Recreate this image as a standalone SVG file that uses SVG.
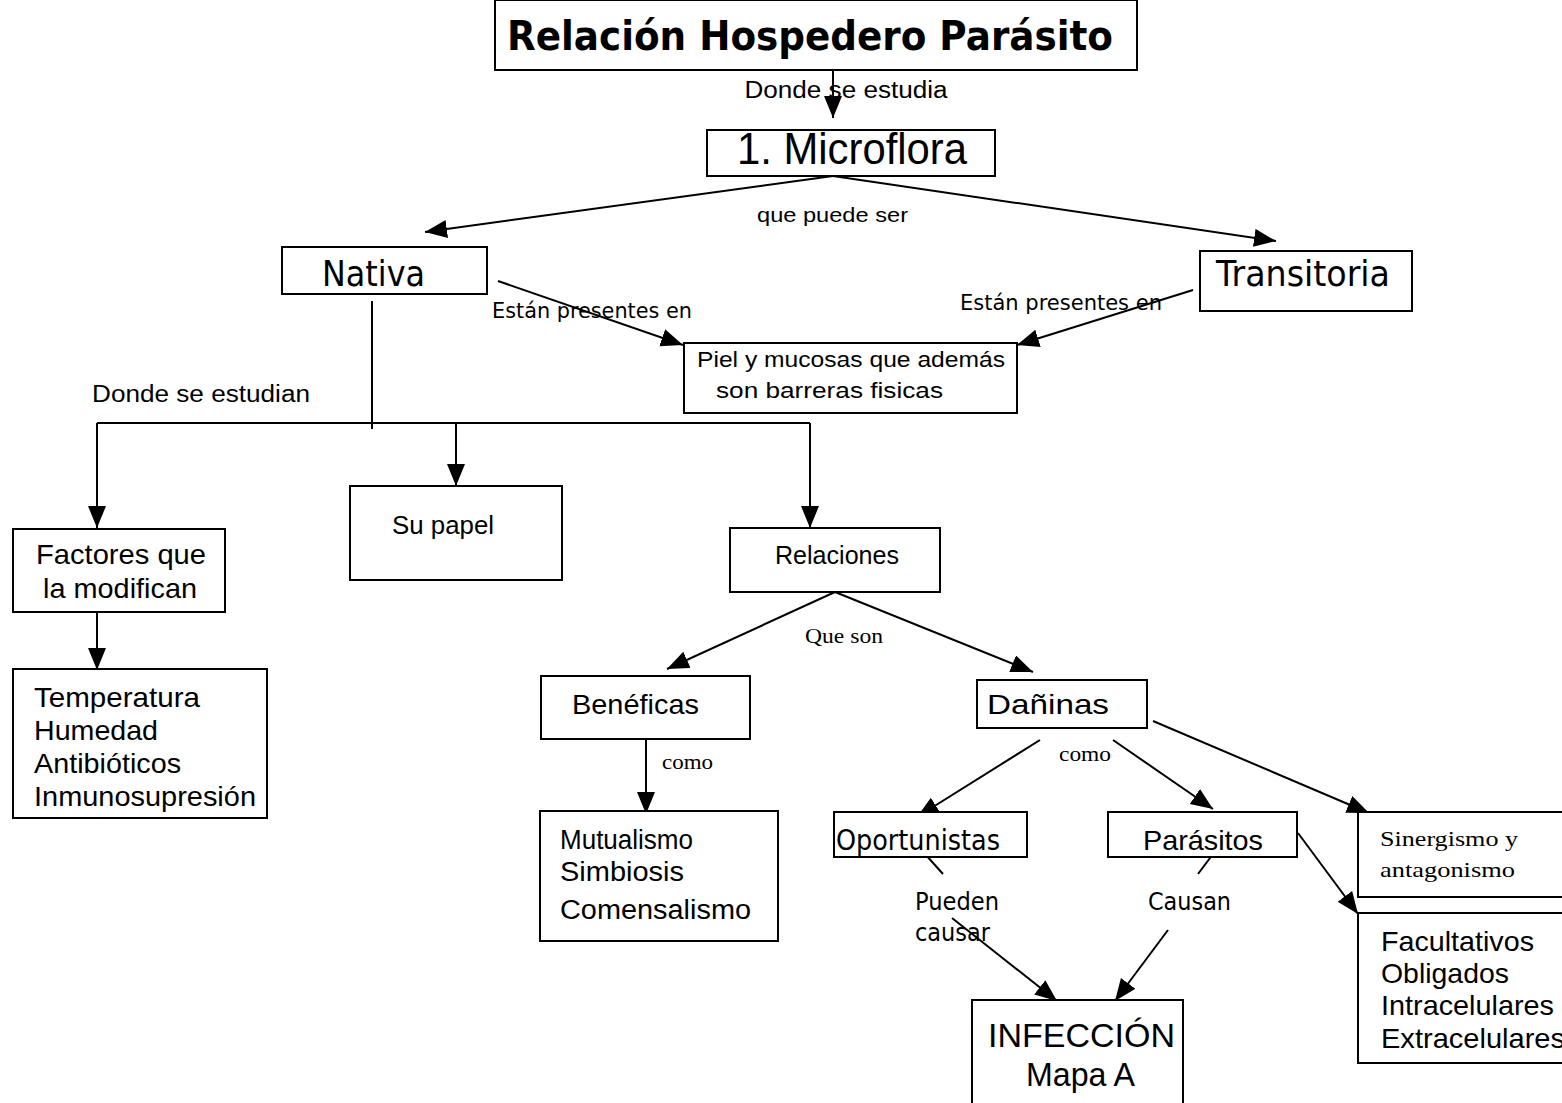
<svg xmlns="http://www.w3.org/2000/svg" width="1562" height="1103" viewBox="0 0 1562 1103">
  <style>
    .box { fill: #fff; stroke: #000; stroke-width: 2; }
    .ln { fill: none; stroke: #000; stroke-width: 2; }
    .arr { fill: none; stroke: #000; stroke-width: 2; marker-end: url(#head); }
    .sans { font-family: "Liberation Sans", Arial, sans-serif; fill: #000; }
    .tah { font-family: "DejaVu Sans", Verdana, sans-serif; fill: #000; }
    .ser { font-family: "Liberation Serif", "Times New Roman", serif; fill: #000; }
  </style>
  <defs>
    <marker id="head" markerUnits="userSpaceOnUse" markerWidth="24" markerHeight="20" refX="22" refY="9" orient="auto" viewBox="0 0 24 20">
      <path d="M0,0 L22,9 L0,18 z" fill="#000"/>
    </marker>
  </defs>
  <rect width="1562" height="1103" fill="#fff"/>

  <!-- connectors -->
  <g id="connectors">
    <line class="arr" x1="833" y1="65" x2="833" y2="118"/>
    <line class="arr" x1="833" y1="176" x2="425" y2="232"/>
    <line class="arr" x1="833" y1="176" x2="1276" y2="241"/>
    <line class="arr" x1="498" y1="281" x2="683" y2="345"/>
    <line class="arr" x1="1193" y1="290" x2="1017" y2="345"/>
    <line class="ln" x1="372" y1="301" x2="372" y2="429"/>
    <polyline class="ln" points="97,423 810,423"/>
    <line class="arr" x1="97" y1="423" x2="97" y2="528"/>
    <line class="arr" x1="456" y1="423" x2="456" y2="486"/>
    <line class="arr" x1="810" y1="423" x2="810" y2="528"/>
    <line class="arr" x1="97" y1="612" x2="97" y2="670"/>
    <line class="arr" x1="835" y1="592" x2="667" y2="669"/>
    <line class="arr" x1="835" y1="592" x2="1033" y2="672"/>
    <line class="arr" x1="646" y1="733" x2="646" y2="814"/>
    <line class="arr" x1="1040" y1="740" x2="917" y2="817"/>
    <line class="arr" x1="1113" y1="740" x2="1213" y2="809"/>
    <line class="arr" x1="1153" y1="721" x2="1369" y2="813"/>
    <line class="arr" x1="1298" y1="833" x2="1358" y2="914"/>
    <line class="ln" x1="925" y1="854" x2="943" y2="874"/>
    <line class="arr" x1="952" y1="918" x2="1057" y2="1001"/>
    <line class="ln" x1="1213" y1="854" x2="1198" y2="874"/>
    <line class="arr" x1="1168" y1="930" x2="1115" y2="1001"/>
    <!-- connector labels -->
    <text class="sans" x="846" y="98" font-size="23" text-anchor="middle" textLength="203" lengthAdjust="spacingAndGlyphs">Donde se estudia</text>
    <text class="sans" x="757" y="222" font-size="21" textLength="151" lengthAdjust="spacingAndGlyphs">que puede ser</text>
    <text class="tah" x="492" y="318" font-size="22" textLength="200" lengthAdjust="spacingAndGlyphs">Están presentes en</text>
    <text class="tah" x="960" y="310" font-size="22" textLength="202" lengthAdjust="spacingAndGlyphs">Están presentes en</text>
    <text class="sans" x="92" y="402" font-size="23" textLength="218" lengthAdjust="spacingAndGlyphs">Donde se estudian</text>
    <text class="ser" x="805" y="643" font-size="21" textLength="78" lengthAdjust="spacingAndGlyphs">Que son</text>
    <text class="ser" x="662" y="769" font-size="21" textLength="51" lengthAdjust="spacingAndGlyphs">como</text>
    <text class="ser" x="1059" y="761" font-size="21" textLength="52" lengthAdjust="spacingAndGlyphs">como</text>
    <text class="tah" x="915" y="910" font-size="25" textLength="84" lengthAdjust="spacingAndGlyphs">Pueden</text>
    <text class="tah" x="915" y="941" font-size="25" textLength="75" lengthAdjust="spacingAndGlyphs">causar</text>
    <text class="tah" x="1148" y="910" font-size="25" textLength="83" lengthAdjust="spacingAndGlyphs">Causan</text>
  </g>

  <g id="title">
    <rect class="box" x="495" y="0" width="642" height="70"/>
    <text class="tah" x="507" y="50" font-size="40" font-weight="bold" textLength="606" lengthAdjust="spacingAndGlyphs">Relación Hospedero Parásito</text>
  </g>
  <g id="microflora">
    <rect class="box" x="707" y="130" width="288" height="46"/>
    <text class="sans" x="737" y="164" font-size="44" textLength="230" lengthAdjust="spacingAndGlyphs">1. Microflora</text>
  </g>
  <g id="nativa">
    <rect class="box" x="282" y="247" width="205" height="47"/>
    <text class="tah" x="322" y="286" font-size="35" textLength="103" lengthAdjust="spacingAndGlyphs">Nativa</text>
  </g>
  <g id="transitoria">
    <rect class="box" x="1200" y="251" width="212" height="60"/>
    <text class="tah" x="1216" y="286" font-size="35" textLength="174" lengthAdjust="spacingAndGlyphs">Transitoria</text>
  </g>
  <g id="piel">
    <rect class="box" x="684" y="343" width="333" height="70"/>
    <text class="sans" x="697" y="367" font-size="22" textLength="308" lengthAdjust="spacingAndGlyphs">Piel y mucosas que además</text>
    <text class="sans" x="716" y="398" font-size="22" textLength="227" lengthAdjust="spacingAndGlyphs">son barreras fisicas</text>
  </g>
  <g id="factores">
    <rect class="box" x="13" y="529" width="212" height="83"/>
    <text class="sans" x="36" y="564" font-size="28" textLength="170" lengthAdjust="spacingAndGlyphs">Factores que</text>
    <text class="sans" x="43" y="598" font-size="28" textLength="154" lengthAdjust="spacingAndGlyphs">la modifican</text>
  </g>
  <g id="factores-lista">
    <rect class="box" x="13" y="669" width="254" height="149"/>
    <text class="sans" x="34" y="707" font-size="28" textLength="166" lengthAdjust="spacingAndGlyphs">Temperatura</text>
    <text class="sans" x="34" y="740" font-size="28" textLength="124" lengthAdjust="spacingAndGlyphs">Humedad</text>
    <text class="sans" x="34" y="773" font-size="28" textLength="147" lengthAdjust="spacingAndGlyphs">Antibióticos</text>
    <text class="sans" x="34" y="806" font-size="28" textLength="222" lengthAdjust="spacingAndGlyphs">Inmunosupresión</text>
  </g>
  <g id="su-papel">
    <rect class="box" x="350" y="486" width="212" height="94"/>
    <text class="sans" x="392" y="534" font-size="25" textLength="102" lengthAdjust="spacingAndGlyphs">Su papel</text>
  </g>
  <g id="relaciones">
    <rect class="box" x="730" y="528" width="210" height="64"/>
    <text class="sans" x="775" y="564" font-size="25" textLength="124" lengthAdjust="spacingAndGlyphs">Relaciones</text>
  </g>
  <g id="beneficas">
    <rect class="box" x="541" y="676" width="209" height="63"/>
    <text class="sans" x="572" y="714" font-size="28" textLength="127" lengthAdjust="spacingAndGlyphs">Benéficas</text>
  </g>
  <g id="daninas">
    <rect class="box" x="977" y="680" width="170" height="48"/>
    <text class="sans" x="987" y="714" font-size="28" textLength="122" lengthAdjust="spacingAndGlyphs">Dañinas</text>
  </g>
  <g id="mutualismo">
    <rect class="box" x="540" y="811" width="238" height="130"/>
    <text class="sans" x="560" y="849" font-size="27" textLength="133" lengthAdjust="spacingAndGlyphs">Mutualismo</text>
    <text class="sans" x="560" y="881" font-size="27" textLength="124" lengthAdjust="spacingAndGlyphs">Simbiosis</text>
    <text class="sans" x="560" y="919" font-size="27" textLength="191" lengthAdjust="spacingAndGlyphs">Comensalismo</text>
  </g>
  <g id="oportunistas">
    <rect class="box" x="834" y="812" width="193" height="45"/>
    <text class="tah" x="836" y="850" font-size="29" textLength="164" lengthAdjust="spacingAndGlyphs">Oportunistas</text>
  </g>
  <g id="parasitos">
    <rect class="box" x="1108" y="812" width="189" height="45"/>
    <text class="sans" x="1143" y="850" font-size="28" textLength="120" lengthAdjust="spacingAndGlyphs">Parásitos</text>
  </g>
  <g id="sinergismo">
    <rect class="box" x="1358" y="812" width="210" height="85"/>
    <text class="ser" x="1380" y="846" font-size="22" textLength="138" lengthAdjust="spacingAndGlyphs">Sinergismo y</text>
    <text class="ser" x="1380" y="877" font-size="22" textLength="135" lengthAdjust="spacingAndGlyphs">antagonismo</text>
  </g>
  <g id="tipos-parasitos">
    <rect class="box" x="1358" y="913" width="210" height="150"/>
    <text class="sans" x="1381" y="951" font-size="28" textLength="153" lengthAdjust="spacingAndGlyphs">Facultativos</text>
    <text class="sans" x="1381" y="983" font-size="28" textLength="128" lengthAdjust="spacingAndGlyphs">Obligados</text>
    <text class="sans" x="1381" y="1015" font-size="28" textLength="173" lengthAdjust="spacingAndGlyphs">Intracelulares</text>
    <text class="sans" x="1381" y="1048" font-size="28" textLength="184" lengthAdjust="spacingAndGlyphs">Extracelulares</text>
  </g>
  <g id="infeccion">
    <rect class="box" x="972" y="1000" width="211" height="110"/>
    <text class="sans" x="988" y="1047" font-size="33" textLength="187" lengthAdjust="spacingAndGlyphs">INFECCIÓN</text>
    <text class="sans" x="1026" y="1086" font-size="33" textLength="109" lengthAdjust="spacingAndGlyphs">Mapa A</text>
  </g>
</svg>
